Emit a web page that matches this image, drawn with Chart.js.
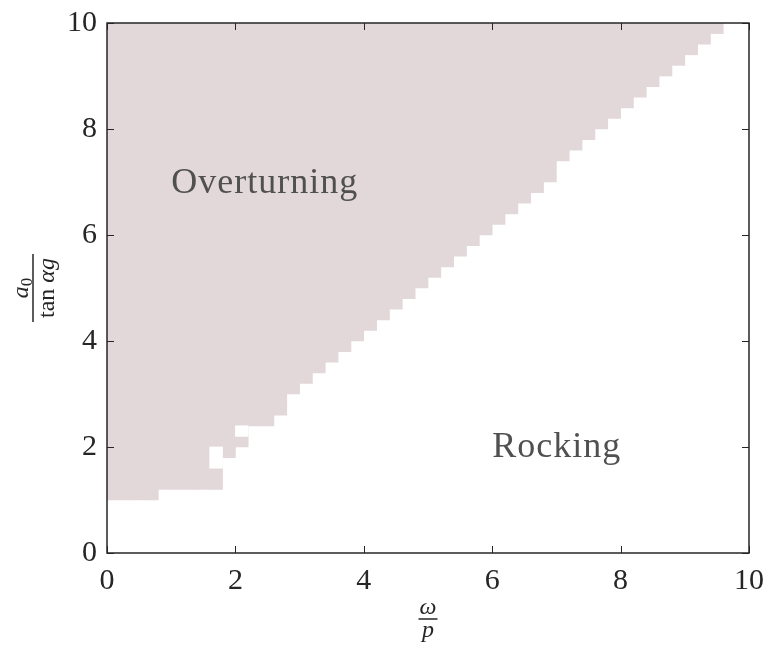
<!DOCTYPE html>
<html>
<head>
<meta charset="utf-8">
<script src="https://cdn.jsdelivr.net/npm/chart.js@4.4.1/dist/chart.umd.min.js"></script>
<style>
  html, body { margin: 0; padding: 0; background: #fff; }
  #wrap { width: 769px; height: 652px; }
</style>
</head>
<body>
<div id="wrap"><canvas id="regimeChart" width="769" height="652"></canvas></div>
<script>
// Grid cells along omega/p (left edge of each 0.2-wide column)
const cellLabels = [
  '0.0', '0.2', '0.4', '0.6', '0.8', '1.0', '1.2', '1.4', '1.6', '1.8',
  '2.0', '2.2', '2.4', '2.6', '2.8', '3.0', '3.2', '3.4', '3.6', '3.8',
  '4.0', '4.2', '4.4', '4.6', '4.8', '5.0', '5.2', '5.4', '5.6', '5.8',
  '6.0', '6.2', '6.4', '6.6', '6.8', '7.0', '7.2', '7.4', '7.6', '7.8',
  '8.0', '8.2', '8.4', '8.6', '8.8', '9.0', '9.2', '9.4', '9.6', '9.8'
];

// Lowest a0/(tan(alpha) g) at which the block overturns, per column (null = rocks everywhere)
const overturnFrom = [
  1.0, 1.0, 1.0, 1.0, 1.2, 1.2, 1.2, 1.2, 1.2, 1.8,
  2.0, 2.4, 2.4, 2.6, 3.0, 3.2, 3.4, 3.6, 3.8, 4.0,
  4.2, 4.4, 4.6, 4.8, 5.0, 5.2, 5.4, 5.6, 5.8, 6.0,
  6.2, 6.4, 6.6, 6.8, 7.0, 7.4, 7.6, 7.8, 8.0, 8.2,
  8.4, 8.6, 8.8, 9.0, 9.2, 9.4, 9.6, 9.8, null, null
];
const overturnTo = 10;

// Small rocking pockets inside the overturning region
const pocketCells = ['1.6', '2.0'];
const pocketFrom = [1.6, 2.2];
const pocketTo = [2.0, 2.4];

const xTicks = [0, 2, 4, 6, 8, 10];
const yTicks = [0, 2, 4, 6, 8, 10];

const SERIF = '"Liberation Serif", "Times New Roman", serif';
const INK = '#262626';
const REGION = '#e3d8d9';

// draws a run of text pieces centred on 0
function drawRun(ctx, parts, baseline) {
  let total = 0;
  parts.forEach(p => {
    ctx.font = (p.italic ? 'italic ' : '') + p.size + 'px ' + SERIF;
    p.w = ctx.measureText(p.text).width;
    total += p.w;
  });
  let cx = -total / 2;
  parts.forEach(p => {
    ctx.font = (p.italic ? 'italic ' : '') + p.size + 'px ' + SERIF;
    ctx.fillText(p.text, cx, baseline + (p.dy || 0));
    cx += p.w;
  });
  return total;
}

function drawFraction(ctx, num, den, numBase, denBase, barLen) {
  drawRun(ctx, num, numBase);
  drawRun(ctx, den, denBase);
  ctx.lineWidth = 1.5;
  ctx.beginPath();
  ctx.moveTo(-barLen / 2, 0);
  ctx.lineTo(barLen / 2, 0);
  ctx.stroke();
}

const annotations = {
  id: 'annotations',
  afterDatasetsDraw(chart) {
    const { ctx, chartArea: a, scales: { x, y } } = chart;
    ctx.save();
    ctx.fillStyle = '#505050';
    ctx.font = '36px ' + SERIF;
    ctx.letterSpacing = '1px';
    ctx.textAlign = 'left';
    ctx.textBaseline = 'alphabetic';
    ctx.fillText('Overturning', x.getPixelForValue(1), y.getPixelForValue(7) + 11);
    ctx.fillText('Rocking', x.getPixelForValue(6), y.getPixelForValue(2) + 10);
    ctx.restore();

    // axis titles as stacked fractions
    ctx.save();
    ctx.fillStyle = INK;
    ctx.strokeStyle = INK;
    ctx.textAlign = 'left';
    ctx.textBaseline = 'alphabetic';
    ctx.translate((a.left + a.right) / 2, 619);
    drawFraction(ctx,
      [{ text: 'ω', italic: true, size: 24 }],
      [{ text: 'p', italic: true, size: 24 }],
      -5, 18, 19);
    ctx.restore();

    ctx.save();
    ctx.fillStyle = INK;
    ctx.strokeStyle = INK;
    ctx.textAlign = 'left';
    ctx.textBaseline = 'alphabetic';
    ctx.translate(33, (a.top + a.bottom) / 2);
    ctx.rotate(-Math.PI / 2);
    drawFraction(ctx,
      [{ text: 'a', italic: true, size: 24 }, { text: '0', size: 17, dy: 4 }],
      [{ text: 'tan ', size: 24 }, { text: 'αg', italic: true, size: 24 }],
      -5, 21, 68);
    ctx.restore();
  },
  afterDraw(chart) {
    const { ctx, chartArea: a, scales: { x, y } } = chart;
    ctx.save();
    ctx.strokeStyle = INK;
    ctx.lineWidth = 1;
    ctx.beginPath();
    x.ticks.forEach(t => {
      const px = Math.round(x.getPixelForValue(t.value)) + 0.5;
      ctx.moveTo(px, a.bottom); ctx.lineTo(px, a.bottom - 7);
      ctx.moveTo(px, a.top); ctx.lineTo(px, a.top + 7);
    });
    y.ticks.forEach(t => {
      const py = Math.round(y.getPixelForValue(t.value)) + 0.5;
      ctx.moveTo(a.left, py); ctx.lineTo(a.left + 7, py);
      ctx.moveTo(a.right, py); ctx.lineTo(a.right - 7, py);
    });
    ctx.stroke();
    ctx.lineWidth = 1.5;
    ctx.strokeRect(a.left, a.top, a.right - a.left, a.bottom - a.top);
    ctx.restore();
  }
};

new Chart(document.getElementById('regimeChart'), {
  type: 'bar',
  data: {
    labels: cellLabels,
    datasets: [
      {
        label: 'Rocking',
        xAxisID: 'cells',
        data: pocketCells.map((c, i) => ({ x: c, y: [pocketFrom[i], pocketTo[i]] })),
        backgroundColor: '#ffffff',
        borderWidth: 0,
        grouped: false,
        barPercentage: 1,
        categoryPercentage: 1,
        order: 0
      },
      {
        label: 'Overturning',
        xAxisID: 'cells',
        data: overturnFrom.map(v => v === null ? null : [v, overturnTo]),
        backgroundColor: REGION,
        borderWidth: 0,
        grouped: false,
        barPercentage: 1,
        categoryPercentage: 1,
        order: 1
      }
    ]
  },
  options: {
    responsive: false,
    animation: false,
    events: [],
    layout: { padding: { top: 23, right: 20, left: 0, bottom: 0 } },
    plugins: { legend: { display: false }, tooltip: { enabled: false } },
    scales: {
      cells: {
        type: 'category',
        axis: 'x',
        position: 'bottom',
        labels: cellLabels,
        display: false,
        offset: true
      },
      x: {
        type: 'linear',
        position: 'bottom',
        min: 0,
        max: 10,
        offset: false,
        afterBuildTicks: s => { s.ticks = xTicks.map(v => ({ value: v })); },
        ticks: { font: { family: SERIF, size: 30 }, color: INK, padding: 10, maxRotation: 0 },
        grid: { display: false, drawTicks: false, offset: false },
        border: { display: false },
        afterFit: s => { s.height = 99; s.paddingLeft = 0; s.paddingRight = 0; }
      },
      y: {
        type: 'linear',
        position: 'left',
        min: 0,
        max: 10,
        afterBuildTicks: s => { s.ticks = yTicks.map(v => ({ value: v })); },
        ticks: { font: { family: SERIF, size: 30 }, color: INK, padding: 10 },
        grid: { display: false, drawTicks: false },
        border: { display: false },
        afterFit: s => { s.width = 107; s.paddingTop = 0; s.paddingBottom = 0; }
      }
    }
  },
  plugins: [annotations]
});
</script>
</body>
</html>
